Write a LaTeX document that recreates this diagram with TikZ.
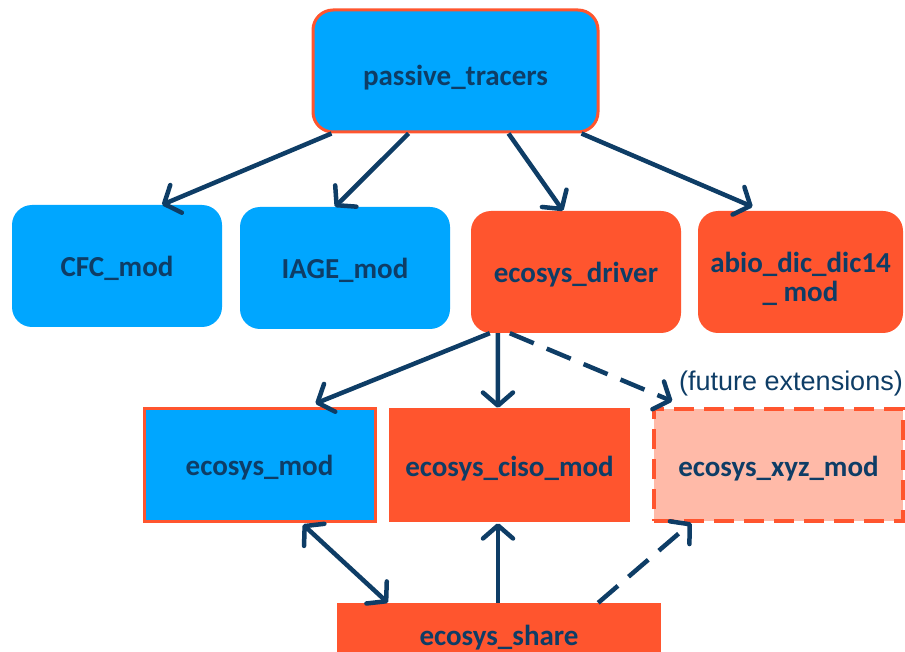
\documentclass[tikz,border=0pt]{standalone}
\usepackage{fontspec}
\setmainfont{Carlito}
\newfontfamily\labelfont{Liberation Sans}
\usepackage{tikz}
\usetikzlibrary{arrows.meta,positioning,calc}
\definecolor{modblue}{RGB}{0,166,255}
\definecolor{modred}{RGB}{255,85,46}
\definecolor{modpale}{RGB}{255,186,168}
\definecolor{navy}{RGB}{14,61,102}

\begin{document}
\begin{tikzpicture}[x=1pt,y=-1pt,
	box/.style={inner sep=0pt, align=center, text=navy, text height=22pt, text depth=0pt, font=\fontsize{29}{29}\selectfont\bfseries},
	bluebox/.style={box, fill=modblue, rounded corners=20pt},
	redbox/.style={box, fill=modred, rounded corners=20pt},
	link/.style={draw=navy, line width=4.5pt, -{Straight Barb[round,length=13pt,width=30pt]}},
	future/.style={link, dash pattern=on 26pt off 14pt}
]
	\useasboundingbox[fill=white] (0,0) rectangle (905,652);
	% top level
	\node[bluebox, draw=modred, line width=3pt, text height=30pt, minimum width=285pt, minimum height=122pt] (pt) at (455.5,71) {passive\_tracers};
	\node[bluebox, minimum width=210pt, minimum height=122pt] (cfc) at (117,266) {CFC\_mod};
	\node[bluebox, minimum width=210pt, minimum height=122pt] (iage) at (345,268) {IAGE\_mod};
	\node[redbox, minimum width=210pt, minimum height=122pt] (drv) at (576,272) {ecosys\_driver};
	\node[redbox, text height=60pt, minimum width=205pt, minimum height=122pt] (abio) at (800.5,272) {abio\_dic\_dic14\\\_ mod};
	% ecosys level
	\node[box, fill=modblue, draw=modred, line width=3pt, minimum width=231pt, minimum height=113pt] (emod) at (259.5,464.5) {ecosys\_mod};
	\node[box, fill=modred, minimum width=241pt, minimum height=114pt] (ciso) at (509.5,465) {ecosys\_ciso\_mod};
	\node[box, fill=modpale, draw=modred, line width=3.5pt, dash pattern=on 20pt off 10pt, minimum width=249pt, minimum height=112pt] (xyz) at (778.5,465) {ecosys\_xyz\_mod};
	\node[text=navy, font=\labelfont\fontsize{27}{29}\selectfont] (fut) at (791,384) {(future extensions)};
	\node[box, fill=modred, minimum width=324pt, minimum height=62pt] (share) at (499,634) {ecosys\_share};

	\draw[link] ([xshift=20pt]pt.south west) -- ([xshift=45pt]cfc.north);
	\draw[link] ([xshift=97pt]pt.south west) -- ([xshift=-10pt]iage.north);
	\draw[link] ([xshift=197pt]pt.south west) -- ([xshift=-13pt]drv.north);
	\draw[link] ([xshift=-18pt]pt.south east) -- ([xshift=-48pt,yshift=4pt]abio.north);

	\draw[link] ([xshift=19pt]drv.south west) -- ([xshift=56pt,yshift=3pt]emod.north);
	\draw[link] ([xshift=27pt]drv.south west) -- ([xshift=-11.5pt]ciso.north);
	\draw[future] ([xshift=39pt]drv.south west) -- ([xshift=20pt,yshift=6pt]xyz.north west);

	\draw[link, {Straight Barb[round,length=13pt,width=30pt]}-{Straight Barb[round,length=13pt,width=30pt]}] ([xshift=43.5pt,yshift=-2pt]emod.south) -- ([xshift=51pt]share.north west);
	\draw[link] ([xshift=-1pt]share.north) -- ([xshift=-11.5pt,yshift=-1pt]ciso.south);
	\draw[future] ([xshift=-63pt]share.north east) -- ([xshift=39pt]xyz.south west);
\end{tikzpicture}
\end{document}
